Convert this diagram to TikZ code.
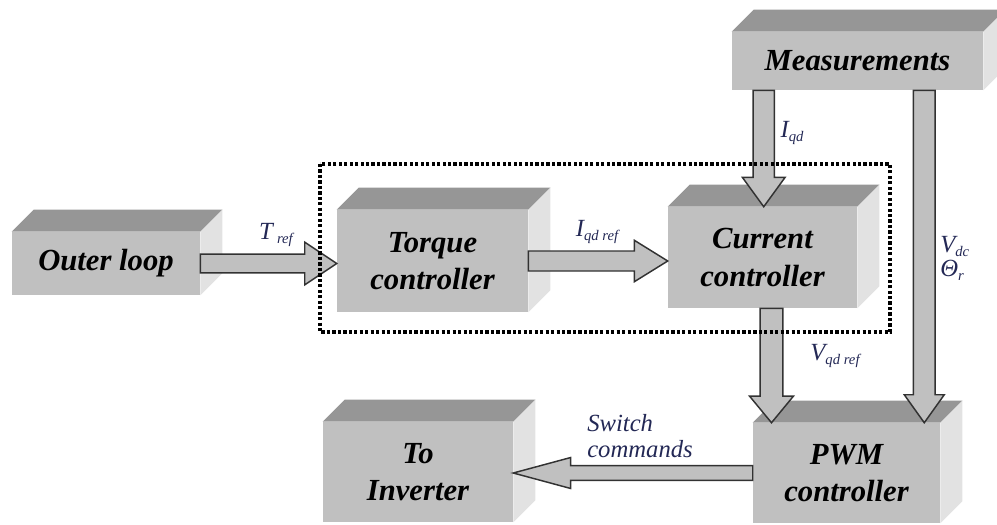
\documentclass[tikz,border=0pt]{standalone}
\usepackage{fontspec}
\setmainfont{Liberation Serif}
\usetikzlibrary{calc}
\definecolor{frontc}{RGB}{192,192,192}
\definecolor{topc}{RGB}{150,150,150}
\definecolor{sidec}{RGB}{226,226,226}
\definecolor{arrfill}{RGB}{192,192,192}
\definecolor{arredge}{RGB}{50,50,50}
\definecolor{lblc}{RGB}{35,40,85}
\tikzset{
  box/.style={fill=frontc, draw=none, inner sep=0pt, align=center,
    font=\fontsize{23}{28}\selectfont\bfseries\itshape, text=black},
  blk/.style={fill=arrfill, draw=arredge, line width=1.1pt, line join=miter},
  lbl/.style={font=\fontsize{18.5}{22}\selectfont\itshape, text=lblc, inner sep=0pt, align=left},
  frame/.style={draw=black, line width=2.6pt, dash pattern=on 2.4pt off 1.7pt}
}
\newcommand{\cubefaces}[1]{%
  \fill[topc] (#1.north west) -- ++(22,-22) -- ($(#1.north east)+(22,-22)$) -- (#1.north east) -- cycle;
  \fill[sidec] (#1.north east) -- ++(22,-22) -- ($(#1.south east)+(22,-22)$) -- (#1.south east) -- cycle;
}
% start, tip, shaft half width, head half width, head length
\newcommand{\blockarr}[5]{%
  \coordinate (hb) at ($(#2)!#5!(#1)$);
  \draw[blk] ($(#1)!#3!90:(#2)$) -- ($(hb)!#3!90:(#2)$) -- ($(hb)!#4!90:(#2)$)
    -- (#2) -- ($(hb)!#4!-90:(#2)$) -- ($(hb)!#3!-90:(#2)$) -- ($(#1)!#3!-90:(#2)$) -- cycle;
}
\newcommand{\lsub}[1]{\raisebox{-0.35ex}{\fontsize{11}{12}\selectfont #1}}
\begin{document}
\begin{tikzpicture}[x=0.75pt,y=-0.75pt]
\useasboundingbox (0,0) rectangle (997,525);
% boxes
\node[box, minimum width=141pt, minimum height=47.25pt] (outer) at (106,263.5) {Outer loop};
\node[box, minimum width=143.25pt, minimum height=76.5pt] (torque) at (432.5,261) {Torque\\controller};
\node[box, minimum width=141.75pt, minimum height=75.75pt] (current) at (762.5,257.5) {Current\\controller};
\node[box, minimum width=188.25pt, minimum height=43.5pt] (meas) at (857.5,61) {Measurements};
\node[box, minimum width=140.25pt, minimum height=75pt] (pwm) at (846.5,473) {PWM\\controller};
\node[box, minimum width=142.5pt, minimum height=75pt] (inv) at (418,472) {To\\Inverter};
\foreach \n in {outer,torque,current,meas,pwm,inv} {\cubefaces{\n}}
% connector end points
\coordinate (a1s) at (outer.east);
\coordinate (a1t) at (torque.west |- outer.east);
\coordinate (a2s) at (torque.east);
\coordinate (a2t) at (current.west |- torque.east);
\coordinate (a3s) at ($(meas.south west)+(32,0)$);
\coordinate (a3t) at (a3s |- current.north);
\coordinate (a4s) at ($(current.south)+(9,0)$);
\coordinate (a4t) at (a4s |- pwm.north);
\coordinate (a5s) at ($(meas.south east)+(-59,0)$);
\coordinate (a5t) at (a5s |- pwm.north);
\coordinate (a6s) at (pwm.west);
\coordinate (a6t) at (inv.east |- pwm.west);
% block arrows
\blockarr{a1s}{a1t}{7.1pt}{16pt}{24pt}
\blockarr{a2s}{a2t}{7.5pt}{15.5pt}{25pt}
\blockarr{a3s}{a3t}{7.9pt}{16pt}{22pt}
\blockarr{a4s}{a4t}{8.6pt}{16.5pt}{20pt}
\blockarr{a5s}{a5t}{8.2pt}{15pt}{21pt}
\blockarr{a6s}{a6t}{5.6pt}{11.6pt}{43pt}
% labels
\node[lbl] (lT) at (276,235) {T\,\lsub{ref}};
\node[lbl] (lIqdref) at (597,232) {I\lsub{qd ref}};
\node[lbl] (lIqd) at (792,133) {I\lsub{qd}};
\node[lbl] (lVqd) at (835,356) {V\lsub{qd ref}};
\node[lbl, anchor=west] (lVdc) at (940,258) {V\lsub{dc}\\[-4pt]Θ\lsub{r}};
\node[lbl, anchor=west] (lsw) at (587,436) {Switch\\[-2pt]commands};
% dotted frame
\draw[frame] (320,164) rectangle (890,332);
\end{tikzpicture}
\end{document}
